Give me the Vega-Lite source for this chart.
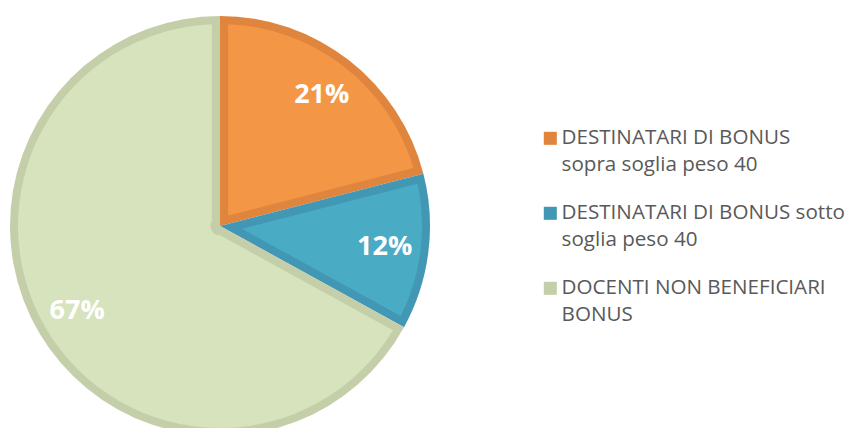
{
  "$schema": "https://vega.github.io/schema/vega-lite/v6.json",
  "width": 420,
  "height": 420,
  "padding": {"left": 10, "top": 16, "right": 0, "bottom": 0},
  "autosize": {"type": "pad"},
  "background": "white",
  "config": {"view": {"stroke": null}},
  "data": {
    "values": [
      {"cat": "DESTINATARI DI BONUS\nsopra soglia peso 40", "value": 21, "label": "21%", "ord": 1},
      {"cat": "DESTINATARI DI BONUS sotto\nsoglia peso 40", "value": 12, "label": "12%", "ord": 2},
      {"cat": "DOCENTI NON BENEFICIARI\nBONUS", "value": 67, "label": "67%", "ord": 3}
    ]
  },
  "encoding": {
    "theta": {"field": "value", "type": "quantitative", "stack": true},
    "order": {"field": "ord", "type": "quantitative"}
  },
  "resolve": {"scale": {"color": "independent"}},
  "layer": [
    {
      "mark": {"type": "arc", "outerRadius": 210},
      "encoding": {
        "color": {
          "field": "cat", "type": "nominal",
          "sort": {"field": "ord"},
          "scale": {
            "domain": ["DESTINATARI DI BONUS\nsopra soglia peso 40", "DESTINATARI DI BONUS sotto\nsoglia peso 40", "DOCENTI NON BENEFICIARI\nBONUS"],
            "range": ["#E0853D", "#4298B4", "#C4CFAA"]
          },
          "legend": {
            "title": null,
            "orient": "none",
            "legendX": 530,
            "legendY": 112,
            "symbolType": "square",
            "symbolSize": 170,
            "symbolStrokeWidth": 0,
            "labelFont": "Open Sans",
            "labelFontSize": 20.6,
            "labelColor": "#595959",
            "labelLimit": 400,
            "labelOffset": 1,
            "rowPadding": 27,
            "labelExpr": "split(datum.label, '\\n')",
            "encode": {"labels": {"update": {"lineHeight": {"value": 27}}}}
          }
        }
      }
    },
    {
      "mark": {"type": "arc", "outerRadius": 202, "innerRadius": {"expr": "8.2 / sin(datum.value / 100 * PI)"}, "padAngle": 0.08},
      "encoding": {
        "color": {
          "field": "label", "type": "nominal",
          "scale": {"domain": ["21%", "12%", "67%"], "range": ["#F39646", "#4AABC5", "#D6E3BC"]},
          "legend": null
        }
      }
    },
    {
      "mark": {"type": "text", "radius": 166, "font": "Open Sans", "fontWeight": "bold", "fontSize": 27, "color": "white"},
      "encoding": {"text": {"field": "label"}}
    }
  ]
}
